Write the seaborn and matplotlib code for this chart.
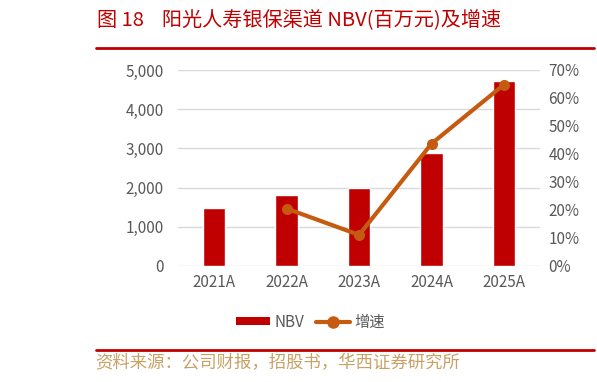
import matplotlib
matplotlib.use("Agg")
import matplotlib.pyplot as plt
import seaborn as sns
import numpy as np
from matplotlib.ticker import FuncFormatter, FixedLocator
from matplotlib.patches import Patch
from matplotlib.lines import Line2D

years = ["2021A", "2022A", "2023A", "2024A", "2025A"]
nbv = [1490, 1800, 2000, 2870, 4720]
growth_years = ["2022A", "2023A", "2024A", "2025A"]
growth = [20.5, 11.1, 43.7, 64.8]

sns.set_theme(style="white")
plt.rcParams['font.family'] = ['Noto Sans CJK SC', 'DejaVu Sans']

BAR = "#C00000"
LINE = "#C55A11"
GRAY = "#595959"

fig = plt.figure(figsize=(5.97, 3.82), dpi=100)
ax = fig.add_axes([0.298, 0.3037, 0.607, 0.5131])

sns.barplot(x=years, y=nbv, color=BAR, width=0.31, saturation=1, ax=ax)
ax.set_ylim(0, 5000)
ax.set_xlim(-0.5, 4.5)
ax.yaxis.set_major_locator(FixedLocator([0, 1000, 2000, 3000, 4000, 5000]))
ax.yaxis.set_major_formatter(FuncFormatter(lambda v, p: f"{int(v):,}"))
ax.grid(axis="y", color="#D9D9D9", linewidth=1)
ax.set_axisbelow(True)
for s in ax.spines.values():
    s.set_visible(False)
ax.tick_params(axis="both", colors=GRAY, labelsize=11, length=0)
ax.tick_params(axis="y", pad=10)
ax.tick_params(axis="x", pad=6)
ax.set_xlabel("")
ax.set_ylabel("")

ax2 = ax.twinx()
xpos = [years.index(y) for y in growth_years]
sns.lineplot(x=xpos, y=growth, color=LINE, linewidth=3, marker="o", markersize=8,
             markeredgewidth=0, ax=ax2)
ax2.set_ylim(0, 70)
ax2.yaxis.set_major_locator(FixedLocator(list(range(0, 71, 10))))
ax2.yaxis.set_major_formatter(FuncFormatter(lambda v, p: f"{int(v)}%"))
for s in ax2.spines.values():
    s.set_visible(False)
ax2.tick_params(axis="y", colors=GRAY, labelsize=11, length=0, pad=6)
ax2.set_ylabel("")
ax2.set_xlim(-0.5, 4.5)

handles = [Patch(facecolor=BAR, edgecolor="none"),
           Line2D([0], [0], color=LINE, linewidth=3, marker="o", markersize=8)]
fig.legend(handles, ["NBV", "增速"], loc="center", bbox_to_anchor=(0.52, 0.157),
           ncol=2, frameon=False, fontsize=11, labelcolor=GRAY, handlelength=2.2,
           handleheight=0.5, columnspacing=0.8, handletextpad=0.3)

fig.text(0.163, 0.945, "图 18    阳光人寿银保渠道 NBV(百万元)及增速", color=BAR,
         fontsize=14.5, va="center", ha="left")
fig.add_artist(Line2D([0.160, 0.995], [0.875, 0.875], color=BAR, linewidth=2))
fig.add_artist(Line2D([0.160, 0.995], [0.084, 0.084], color=BAR, linewidth=2))
fig.text(0.160, 0.050, "资料来源：公司财报，招股书，华西证券研究所", color="#C8A165",
         fontsize=12.5, va="center", ha="left")

fig.savefig("out.png", dpi=100)
